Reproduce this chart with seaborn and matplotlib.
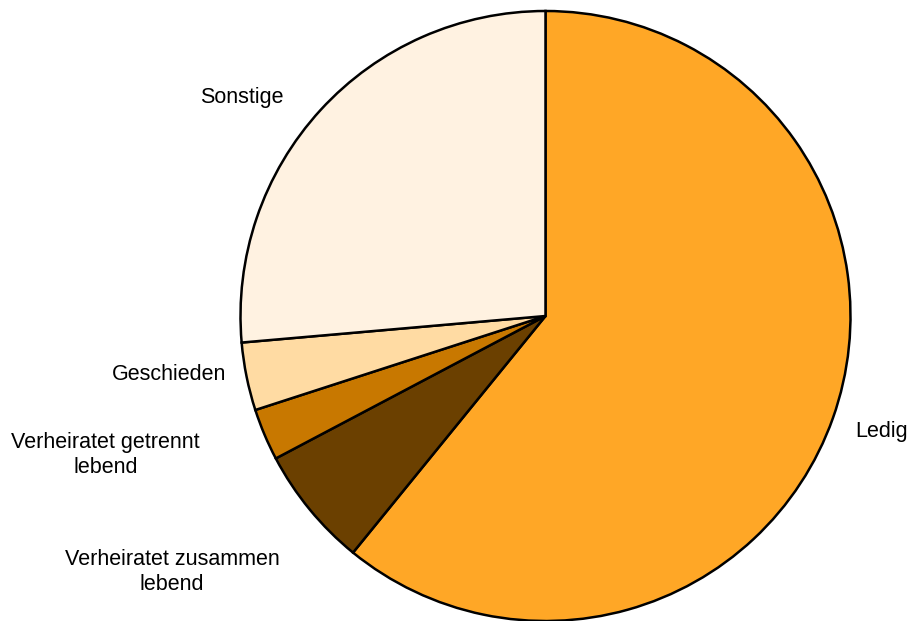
import matplotlib
matplotlib.use("Agg")
import matplotlib.pyplot as plt
import seaborn as sns

categories = ["Ledig", "Verheiratet zusammen\nlebend", "Verheiratet getrennt\nlebend", "Geschieden", "Sonstige"]
values = [60.9, 6.4, 2.75, 3.6, 26.4]
colors = ["#FFA726", "#6B4000", "#C87800", "#FFDBA3", "#FFF2E1"]

sns.set_style("white")
plt.rcParams['font.family'] = ['Liberation Sans', 'DejaVu Sans']

W, H = 910, 621
fig = plt.figure(figsize=(W / 100, H / 100), dpi=100)
ax = fig.add_axes([0, 0, 1, 1])

cx, cy, R = 545.5, 316.0, 305.0

wedges, texts = ax.pie(values, labels=categories, colors=colors, startangle=90,
                       counterclock=False, radius=1.0,
                       wedgeprops=dict(edgecolor="black", linewidth=1.8),
                       textprops=dict(fontsize=15.5, color="black"))

# label centres in pixel coordinates
label_px = [(882, 432), (172, 572), (105.5, 455), (169, 375), (242, 98)]
for t, (px, py) in zip(texts, label_px):
    t.set_position(((px - cx) / R, (cy - py) / R))
    t.set_ha("center")
    t.set_va("center")
    t.set_multialignment("center")
    t.set_linespacing(1.25)

ax.set_xlim(-cx / R, (W - cx) / R)
ax.set_ylim(-(H - cy) / R, cy / R)
ax.set_aspect("equal")
ax.axis("off")

fig.savefig("out.png", dpi=100)
